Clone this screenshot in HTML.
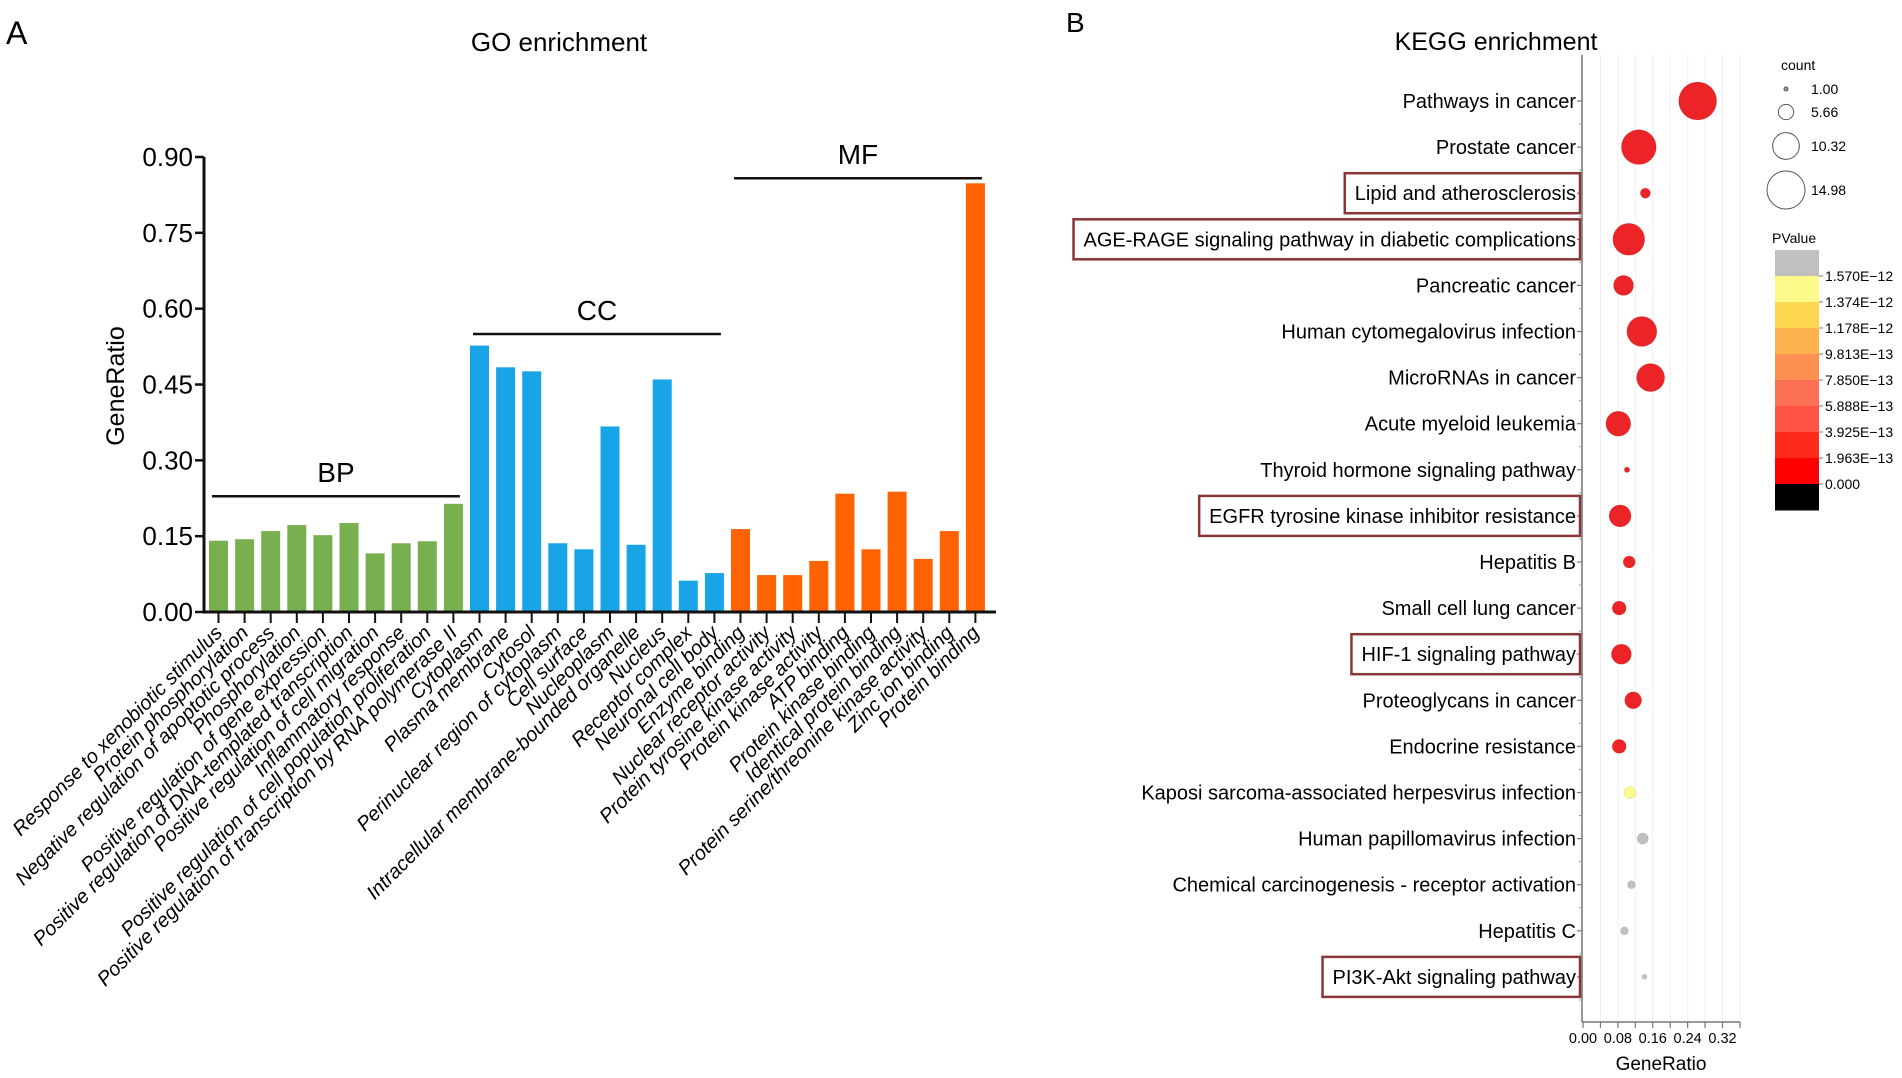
<!DOCTYPE html>
<html><head><meta charset="utf-8">
<style>
html,body{margin:0;padding:0;background:#fff;overflow:hidden;}
svg{display:block;font-family:"Liberation Sans",Arial,sans-serif;}
</style></head>
<body>
<svg id="fig" width="1902" height="1078" viewBox="0 0 1902 1078" xmlns="http://www.w3.org/2000/svg">
<rect width="1902" height="1078" fill="#fff"/>
<text x="6" y="44" font-size="32">A</text>
<text x="1066" y="32" font-size="28">B</text>
<text x="559" y="51" font-size="26" text-anchor="middle">GO enrichment</text>
<text x="1496" y="50" font-size="25" text-anchor="middle">KEGG enrichment</text>
<g id="go"></g>
<g id="kegg"></g>
</svg>
<script>
const NS="http://www.w3.org/2000/svg";
function mk(p,tag,attrs,txt){const e=document.createElementNS(NS,tag);for(const k in attrs)e.setAttribute(k,attrs[k]);if(txt!==undefined)e.textContent=txt;p.appendChild(e);return e;}

// ---------- GO data ----------
const goTerms=["Response to xenobiotic stimulus","Protein phosphorylation","Negative regulation of apoptotic process","Phosphorylation","Positive regulation of gene expression","Positive regulation of DNA-templated transcription","Positive regulation of cell migration","Inflammatory response","Positive regulation of cell population proliferation","Positive regulation of transcription by RNA polymerase II","Cytoplasm","Plasma membrane","Cytosol","Perinuclear region of cytoplasm","Cell surface","Nucleoplasm","Intracellular membrane-bounded organelle","Nucleus","Receptor complex","Neuronal cell body","Enzyme binding","Nuclear receptor activity","Protein tyrosine kinase activity","Protein kinase activity","ATP binding","Protein kinase binding","Identical protein binding","Protein serine/threonine kinase activity","Zinc ion binding","Protein binding"];
const goValues=[0.141,0.144,0.160,0.172,0.152,0.176,0.116,0.136,0.140,0.214,0.527,0.484,0.476,0.136,0.124,0.367,0.133,0.460,0.062,0.077,0.164,0.073,0.073,0.101,0.234,0.124,0.238,0.105,0.160,0.848];
const goGroups=["BP","BP","BP","BP","BP","BP","BP","BP","BP","BP","CC","CC","CC","CC","CC","CC","CC","CC","CC","CC","MF","MF","MF","MF","MF","MF","MF","MF","MF","MF"];
const goTicks=[0,0.15,0.30,0.45,0.60,0.75,0.90];
const goTickLabels=["0.00","0.15","0.30","0.45","0.60","0.75","0.90"];
const goGroupNames=["BP","CC","MF"];
const goGroupLineLevel=[0.229,0.55,0.858];

// ---------- KEGG data ----------
const keggTerms=["Pathways in cancer","Prostate cancer","Lipid and atherosclerosis","AGE-RAGE signaling pathway in diabetic complications","Pancreatic cancer","Human cytomegalovirus infection","MicroRNAs in cancer","Acute myeloid leukemia","Thyroid hormone signaling pathway","EGFR tyrosine kinase inhibitor resistance","Hepatitis B","Small cell lung cancer","HIF-1 signaling pathway","Proteoglycans in cancer","Endocrine resistance","Kaposi sarcoma-associated herpesvirus infection","Human papillomavirus infection","Chemical carcinogenesis - receptor activation","Hepatitis C","PI3K-Akt signaling pathway"];
const keggRatio=[0.263,0.128,0.143,0.105,0.093,0.135,0.155,0.081,0.101,0.085,0.106,0.083,0.088,0.115,0.083,0.108,0.137,0.111,0.095,0.141];
const keggCount=[15,13.7,3.5,12.5,7.6,11.7,10.9,9.6,1.6,8.4,4.3,5.1,7.6,6.3,5.1,4.3,3.9,2.6,2.6,1.4];
const keggP=[2.5e-13,2.5e-13,2.5e-13,2.5e-13,2.5e-13,2.5e-13,2.5e-13,2.5e-13,2.5e-13,2.5e-13,2.5e-13,2.5e-13,2.5e-13,2.5e-13,2.5e-13,1.45e-12,1.7e-12,1.7e-12,1.7e-12,1.7e-12];
const keggHighlight=[0,0,1,1,0,0,0,0,0,1,0,0,1,0,0,0,0,0,0,1];
const keggXTicks=[0,0.08,0.16,0.24,0.32];
const keggXTickLabels=["0.00","0.08","0.16","0.24","0.32"];
const legendCounts=[1.00,5.66,10.32,14.98];
const legendCountLabels=["1.00","5.66","10.32","14.98"];
const pBreaks=[1.570e-12,1.374e-12,1.178e-12,9.813e-13,7.850e-13,5.888e-13,3.925e-13,1.963e-13,0];
const pBreakLabels=["1.570E\u221212","1.374E\u221212","1.178E\u221212","9.813E\u221213","7.850E\u221213","5.888E\u221213","3.925E\u221213","1.963E\u221213","0.000"];
const pColors=["#c0c0c0","#fdfa8c","#fdd64f","#fdb24f","#fd9050","#fc7154","#fd5244","#ec2327","#fe0000","#000000"];

// ---------- GO chart ----------
const go=document.getElementById('go');
const gy0=612,gy1=157,gymax=0.9,gx0=204,gx1=996,barStart=209,pitch=26.1,bw=19;
const yS=v=>gy0-(v/gymax)*(gy0-gy1);
const xS=i=>barStart+i*pitch;
const grpColor={BP:"#79b04f",CC:"#18a4e7",MF:"#ff6200"};
goValues.forEach((v,i)=>{
  const r=mk(go,'rect',{x:xS(i),y:yS(v),width:bw,height:gy0-yS(v),fill:grpColor[goGroups[i]]});
  
  
  const cx=xS(i)+bw/2;
  mk(go,'line',{x1:cx,y1:gy0,x2:cx,y2:gy0+11,stroke:'#111','stroke-width':2});
  const t=mk(go,'text',{x:cx+5,y:gy0+22,'font-size':20,'font-style':'italic','text-anchor':'end',transform:`rotate(-45 ${cx+5} ${gy0+22})`},goTerms[i]);
  
  
});
mk(go,'line',{x1:gx0,y1:gy1,x2:gx0,y2:gy0+1.5,stroke:'#111','stroke-width':3});
mk(go,'line',{x1:gx0-1.5,y1:gy0,x2:gx1,y2:gy0,stroke:'#111','stroke-width':3});
goTicks.forEach((v,i)=>{
  mk(go,'line',{x1:gx0-9,y1:yS(v),x2:gx0,y2:yS(v),stroke:'#111','stroke-width':2.5});
  const t=mk(go,'text',{x:gx0-11,y:yS(v)+9,'font-size':26,'text-anchor':'end'},goTickLabels[i]);
  
  
});
const yl=mk(go,'text',{x:0,y:0,'font-size':25,'text-anchor':'middle',transform:`translate(124,386) rotate(-90)`},"GeneRatio");


goGroupNames.forEach((g,gi)=>{
  const idx=goGroups.map((x,i)=>x===g?i:-1).filter(i=>i>=0);
  const a=xS(idx[0])+3, b=xS(idx[idx.length-1])+bw-3;
  const ly=yS(goGroupLineLevel[gi]);
  const l=mk(go,'line',{x1:a,y1:ly,x2:b,y2:ly,stroke:'#111','stroke-width':2.5});
  
  
  const t=mk(go,'text',{x:(a+b)/2,y:ly-14,'font-size':28,'text-anchor':'middle'},g);
  
  
});

// ---------- KEGG chart ----------
const kg=document.getElementById('kegg');
const kx0=1583,kxPer=436,ky0=101,kpitch=46.1,kTop=55,kBot=1022;
const kX=v=>kx0+v*kxPer;
const kY=i=>ky0+i*kpitch;
const rS=c=>1.215*c+0.8;
function pColor(p){for(let i=0;i<pBreaks.length;i++){if(p>pBreaks[i])return pColors[i];}return pColors[pColors.length-1];}
for(let v=0.04;v<=0.361;v+=0.04){mk(kg,'line',{x1:kX(v),y1:kTop,x2:kX(v),y2:kBot,stroke:'#f0f0f0','stroke-width':1});}
mk(kg,'line',{x1:kx0-1,y1:kTop,x2:kx0-1,y2:kBot,stroke:'#777','stroke-width':1.5});
mk(kg,'line',{x1:kx0-1,y1:kBot,x2:kX(0.36),y2:kBot,stroke:'#777','stroke-width':1.5});
for(let v=0;v<=0.361;v+=0.04){mk(kg,'line',{x1:kX(v),y1:kBot,x2:kX(v),y2:kBot+6,stroke:'#777','stroke-width':1.2});}
keggXTicks.forEach((v,i)=>{
  const t=mk(kg,'text',{x:kX(v),y:kBot+21,'font-size':14.5,'text-anchor':'middle'},keggXTickLabels[i]);
  
  
});
const kxl=mk(kg,'text',{x:1661,y:1070,'font-size':19,'text-anchor':'middle'},"GeneRatio");


keggTerms.forEach((name,i)=>{
  const y=kY(i);
  mk(kg,'line',{x1:kx0-6,y1:y,x2:kx0-1,y2:y,stroke:'#777','stroke-width':1.2});
  mk(kg,'line',{x1:kx0-4,y1:y+kpitch/2,x2:kx0-1,y2:y+kpitch/2,stroke:'#999','stroke-width':1});
  const t=mk(kg,'text',{x:kx0-7,y:y+7,'font-size':20,'text-anchor':'end'},name);
  
  
  if(keggHighlight[i]){
    const w=t.getComputedTextLength();
    const b=mk(kg,'rect',{x:kx0-7-w-10,y:y-20,width:w+14,height:40,fill:'none',stroke:'#8b3636','stroke-width':2.5});
    
    
  }
  const c=mk(kg,'circle',{cx:kX(keggRatio[i]),cy:y,r:rS(keggCount[i]),fill:pColor(keggP[i]),stroke:'rgba(0,0,0,0.08)','stroke-width':1});
  
  
});
// legend count
const lc=mk(kg,'text',{x:1781,y:70,'font-size':14},"count");


const legY=[89,112,146,190];
legendCounts.forEach((c,i)=>{
  const cc=mk(kg,'circle',{cx:1786,cy:legY[i],r:rS(c),fill:i===0?'#999':'none',stroke:'#555','stroke-width':1});
  
  
  const t=mk(kg,'text',{x:1811,y:legY[i]+5,'font-size':14},legendCountLabels[i]);
  
  
});
const pt=mk(kg,'text',{x:1772,y:243,'font-size':14},"PValue");


const cbTop=250,cbH=26;
const cbColors=["#c0c0c0","#fdfa8c","#fdd64f","#fdb24f","#fd9050","#fc7154","#fd5244","#fe2b1c","#fe0000","#000000"];
cbColors.forEach((col,i)=>{
  const r=mk(kg,'rect',{x:1775,y:cbTop+i*cbH,width:44,height:cbH+0.5,fill:col});
  
  
});
pBreakLabels.forEach((l,i)=>{
  const y=cbTop+(i+1)*cbH;
  mk(kg,'line',{x1:1819,y1:y,x2:1823,y2:y,stroke:'#777','stroke-width':1});
  const t=mk(kg,'text',{x:1825,y:y+5,'font-size':14},l);
  
  
});
</script>
</body></html>
